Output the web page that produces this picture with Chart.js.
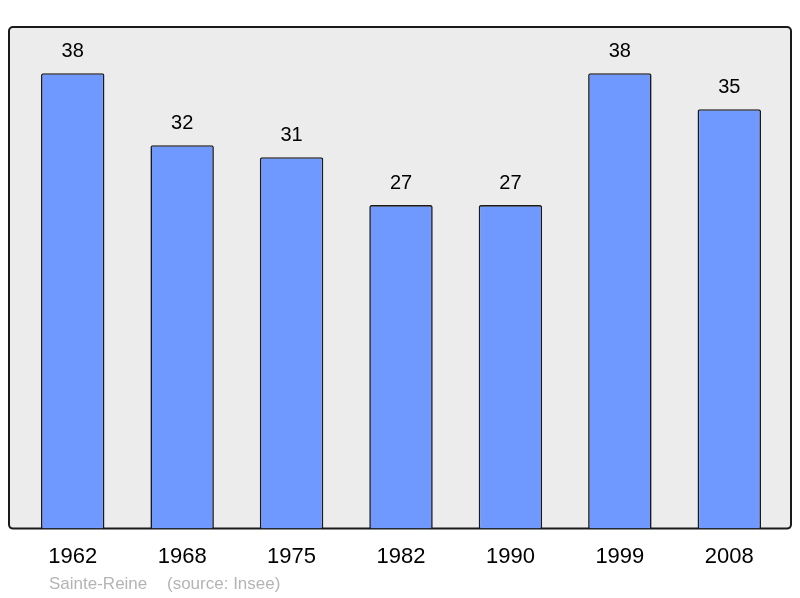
<!DOCTYPE html>
<html>
<head>
<meta charset="utf-8">
<script src="https://cdn.jsdelivr.net/npm/chart.js@4/dist/chart.umd.min.js"></script>
<style>
  html, body { margin: 0; padding: 0; background: #fff; }
  #wrap { width: 800px; height: 598px; }
</style>
</head>
<body>
<div id="wrap"><canvas id="popChart"></canvas></div>
<script>
// population data
const years = ['1962', '1968', '1975', '1982', '1990', '1999', '2008'];
const population = [38, 32, 31, 27, 27, 38, 35];
const footerName = 'Sainte-Reine';
const footerSource = '(source: Insee)';

const fontFamily = '"Liberation Sans", Arial, sans-serif';

// grey framed box behind the bars
const framePlugin = {
    id: 'frame',
    beforeDraw(chart) {
        const ctx = chart.ctx;
        const a = chart.chartArea;
        const x0 = a.left - 9, x1 = a.right + 7;
        const y0 = a.top, y1 = a.bottom;
        ctx.save();
        ctx.beginPath();
        ctx.roundRect(x0, y0, x1 - x0, y1 - y0, 4);
        ctx.fillStyle = '#ececec';
        ctx.fill();
        ctx.lineWidth = 2;
        ctx.strokeStyle = '#1a1a1a';
        ctx.stroke();
        ctx.restore();
    }
};

// values above bars + footer text
const labelPlugin = {
    id: 'labels',
    afterDatasetsDraw(chart) {
        const ctx = chart.ctx;
        const meta = chart.getDatasetMeta(0);
        ctx.save();
        ctx.font = '20px ' + fontFamily;
        ctx.fillStyle = '#000';
        ctx.textAlign = 'center';
        ctx.textBaseline = 'middle';
        meta.data.forEach((bar, i) => {
            ctx.fillText(population[i], bar.x, bar.y - 22);
        });
        ctx.font = '17px ' + fontFamily;
        ctx.fillStyle = '#b4b4b4';
        ctx.textAlign = 'left';
        ctx.fillText(footerName, 49, 584);
        ctx.fillText(footerSource, 167, 584);
        ctx.restore();
    }
};

const ctx = document.getElementById('popChart').getContext('2d');
const popChart = new Chart(ctx, {
    type: 'bar',
    data: {
        labels: years,
        datasets: [{
            data: population,
            backgroundColor: '#7099ff',
            borderColor: '#1a1a1a',
            borderWidth: 1.6,
            borderRadius: 2,
            borderSkipped: 'bottom',
            barPercentage: 0.58,
            categoryPercentage: 1
        }]
    },
    options: {
        responsive: true,
        maintainAspectRatio: false,
        animation: false,
        layout: {
            padding: { left: 18, right: 16, top: 27, bottom: 13 }
        },
        plugins: {
            legend: { display: false },
            tooltip: { enabled: false }
        },
        scales: {
            x: {
                grid: { display: false, drawTicks: false },
                border: { display: false },
                ticks: {
                    padding: 15,
                    color: '#000',
                    font: { family: fontFamily, size: 22 }
                }
            },
            y: {
                display: false,
                min: 0,
                max: 41.86
            }
        }
    },
    plugins: [framePlugin, labelPlugin]
});
</script>
</body>
</html>
